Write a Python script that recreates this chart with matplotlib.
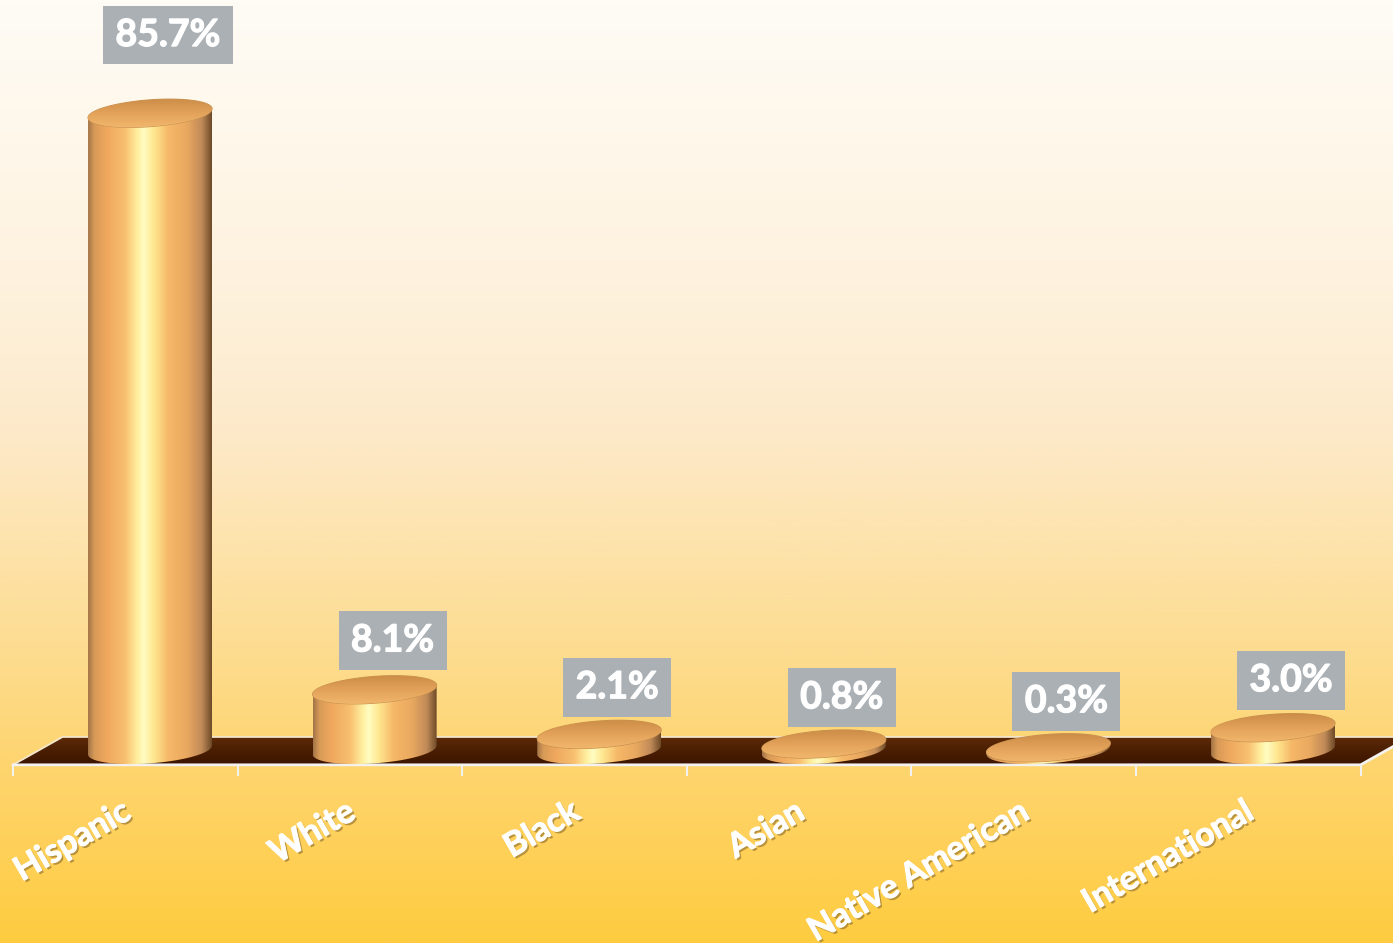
import numpy as np
import matplotlib.pyplot as plt
from matplotlib.colors import LinearSegmentedColormap
from matplotlib.patches import Polygon
import matplotlib.patheffects as pe

categories = ['Hispanic', 'White', 'Black', 'Asian', 'Native American', 'International']
values = [85.7, 8.1, 2.1, 0.8, 0.3, 3.0]

plt.rcParams['font.family'] = ['Lato', 'DejaVu Sans']

fig = plt.figure(figsize=(13.93, 9.43), dpi=100)
ax = fig.add_axes([0, 0, 1, 1])
ax.set_autoscale_on(False)
xlim = (-0.668, 5.534)
ylim = (-25.98, 100.94)
ax.set_xlim(*xlim)
ax.set_ylim(*ylim)
ax.axis('off')

# background gradient (cream at top -> golden at bottom)
bg_cmap = LinearSegmentedColormap.from_list('bg', [
    (0.0, '#FFCC40'), (0.2, '#FED572'), (0.3, '#FDDC8E'),
    (0.55, '#FDEACB'), (0.7, '#FEF2DE'), (1.0, '#FFFCF6')])
ax.imshow(np.linspace(0, 1, 512).reshape(-1, 1), cmap=bg_cmap, origin='lower',
          extent=(*xlim, *ylim), aspect='auto', zorder=0)

# floor (oblique 3d look)
n = len(categories)
depth_x = 0.11
front_y, back_y = -2.0, 1.75
floor = Polygon([(-0.5 - depth_x, front_y), (n - 0.5 - depth_x, front_y),
                 (n - 0.5 + depth_x, back_y), (-0.5 + depth_x, back_y)],
                closed=True, fc='none', ec='none', zorder=1)
ax.add_patch(floor)
floor_cmap = LinearSegmentedColormap.from_list('floor', ['#3C1400', '#4A1E02', '#5C2A08'])
fim = ax.imshow(np.linspace(0, 1, 64).reshape(-1, 1), cmap=floor_cmap, origin='lower',
                extent=(-0.5 - depth_x, n - 0.5 + depth_x, front_y, back_y),
                aspect='auto', zorder=1)
fim.set_clip_path(floor)
ax.plot([-0.5 - depth_x, -0.5 + depth_x, n - 0.5 + depth_x],
        [front_y, back_y, back_y], color='#F3E6CC', lw=1.3, zorder=2)
ax.plot([-0.5 - depth_x, n - 0.5 - depth_x, n - 0.5 + depth_x],
        [front_y, front_y, back_y], color='#F4F2EE', lw=2, zorder=2)
for i in range(n + 1):
    ax.plot([i - 0.5 - depth_x] * 2, [front_y, front_y - 1.4], color='#F4F2EE', lw=1.5, zorder=2)

# cylinders
side_cmap = LinearSegmentedColormap.from_list('side', [
    (0.0, '#A27446'), (0.05, '#D89A58'), (0.15, '#EFA85E'), (0.3, '#F8C070'),
    (0.4, '#FFF0A0'), (0.45, '#FFFCC2'), (0.53, '#FFE890'), (0.65, '#F6B868'),
    (0.8, '#E9A860'), (0.92, '#C08A58'), (1.0, '#6E4A28')])
top_cmap = LinearSegmentedColormap.from_list('top', ['#F4BC70', '#E3A25A', '#C68844'])
A, B, S = 0.276, 1.8, 0.6


def ellipse(cx, cy, t):
    return np.column_stack([cx + A * np.cos(t), cy + B * np.sin(t) + S * np.cos(t)])


for i, v in enumerate(values):
    lower = ellipse(i, 0, np.linspace(np.pi, 2 * np.pi, 80))
    upper = ellipse(i, v, np.linspace(2 * np.pi, np.pi, 80))
    side = Polygon(np.vstack([lower, upper]), closed=True, fc='none', ec='none', zorder=3)
    ax.add_patch(side)
    im = ax.imshow(np.linspace(0, 1, 256).reshape(1, -1), cmap=side_cmap,
                   extent=(i - A, i + A, -B - 1, v + B + 1), aspect='auto',
                   interpolation='bicubic', zorder=3)
    im.set_clip_path(side)

    cap = Polygon(ellipse(i, v, np.linspace(0, 2 * np.pi, 160)), closed=True,
                  fc='none', ec='#C8914E', lw=0.8, zorder=4)
    ax.add_patch(cap)
    tim = ax.imshow(np.linspace(0, 1, 64).reshape(-1, 1), cmap=top_cmap, origin='lower',
                    extent=(i - A, i + A, v - B - S, v + B + S), aspect='auto',
                    interpolation='bicubic', zorder=4)
    tim.set_clip_path(cap)

    # value label in grey box
    ax.text(i + 0.08, v * 1.05 + 2.3 + 1.65, f'{v:.1f}%', ha='center', va='bottom',
            fontsize=27, fontweight='bold', color='white', zorder=6,
            bbox=dict(boxstyle='square,pad=0.33', fc='#AAB0B4', ec='none'),
            path_effects=[pe.withStroke(linewidth=0.9, foreground='white')])

    # category label
    ax.text(i - 0.13, -6.3, categories[i], ha='right', va='top', rotation=30,
            rotation_mode='anchor', fontsize=24, fontweight='bold', color='white', zorder=6,
            path_effects=[pe.SimplePatchShadow(offset=(1.5, -1.5),
                                               shadow_rgbFace='#8A6A2A', alpha=0.6),
                          pe.withStroke(linewidth=0.8, foreground='white')])

fig.savefig('out.png', dpi=100)
